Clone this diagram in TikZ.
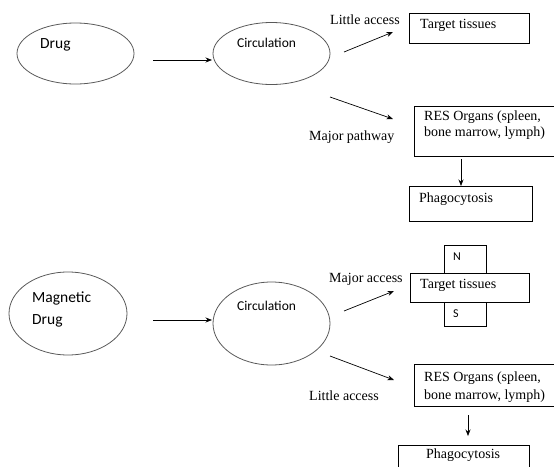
\documentclass[tikz,border=0pt]{standalone}
\usepackage{fontspec}
\setmainfont{Liberation Serif}
\newfontfamily\calfont{Carlito}
\usetikzlibrary{arrows.meta,shapes.geometric}
\begin{document}
\begin{tikzpicture}[x=1pt,y=-1pt,
  oval/.style={draw=black!65, line width=0.8pt, ellipse, inner sep=0pt},
  box/.style={draw, line width=0.8pt, rectangle, inner sep=0pt, anchor=north west},
  stxt/.style={font=\calfont\fontsize{15.5}{22}\selectfont, anchor=west, inner sep=0pt, align=left},
  ctxt/.style={font=\calfont\fontsize{13.5}{16}\selectfont, anchor=west, inner sep=0pt},
  ntxt/.style={font=\calfont\fontsize{12}{14}\selectfont, anchor=west, inner sep=0pt},
  rtxt/.style={font=\fontsize{14}{16}\selectfont, anchor=west, inner sep=0pt, align=left},
  arr/.style={-{Stealth[length=6.5pt,width=5pt]}, line width=0.7pt}]
\clip (0,0) rectangle (554,466);

% ---------- top diagram ----------
\node[oval, minimum width=117pt, minimum height=61pt] (drug) at (75.5,53.5) {};
\node[stxt] (drugt) at (40,45) {Drug};
\node[oval, minimum width=117pt, minimum height=62pt] (circ1) at (271.5,53.5) {};
\node[ctxt] (circ1t) at (237,43) {Circulation};

\node[box, minimum width=120pt, minimum height=30pt] (tt1) at (409,13) {};
\node[rtxt] (tt1t) at (420,25) {Target tissues};
\node[box, minimum width=139.5pt, minimum height=50pt] (res1) at (414,106) {};
\node[rtxt, font=\fontsize{14}{16}\selectfont] (res1t) at (424,125) {RES Organs (spleen,\\bone marrow, lymph)};
\node[box, minimum width=123pt, minimum height=35pt] (ph1) at (409,186) {};
\node[rtxt] (ph1t) at (419,199) {Phagocytosis};

\node[rtxt] (la1) at (330,20) {Little access};
\node[rtxt] (mp1) at (309,137) {Major pathway};

\coordinate (a1s) at (153,60);  \coordinate (a1e) at (212,60);
\coordinate (a2s) at (344,52);  \coordinate (a2e) at (393,32);
\coordinate (a3s) at (330,97);  \coordinate (a3e) at (393,119);
\coordinate (a4s) at (461,159); \coordinate (a4e) at (461,186);
\draw[arr] (a1s) -- (a1e);
\draw[arr] (a2s) -- (a2e);
\draw[arr] (a3s) -- (a3e);
\draw[arr] (a4s) -- (a4e);

% ---------- bottom diagram ----------
\node[oval, minimum width=118pt, minimum height=83pt] (mdrug) at (68,313.5) {};
\node[stxt] (mdrugt) at (32,309) {Magnetic\\Drug};
\node[oval, minimum width=117pt, minimum height=83pt] (circ2) at (271.5,323.5) {};
\node[ctxt] (circ2t) at (237,306) {Circulation};

\node[box, minimum width=42pt, minimum height=28pt] (nb) at (444,245) {};
\node[ntxt] (nbt) at (453,257) {N};
\node[box, minimum width=42pt, minimum height=24pt] (sb) at (444,302) {};
\node[ntxt] (sbt) at (453,314) {S};
\node[box, minimum width=119pt, minimum height=29pt, fill=white] (tt2) at (410,273) {};
\node[rtxt] (tt2t) at (420,285) {Target tissues};

\node[box, minimum width=139.5pt, minimum height=42pt] (res2) at (414,364) {};
\node[rtxt, font=\fontsize{14}{18}\selectfont] (res2t) at (424,387) {RES Organs (spleen,\\bone marrow, lymph)};
\node[box, minimum width=131pt, minimum height=30pt] (ph2) at (398,445) {};
\node[rtxt] (ph2t) at (426,455) {Phagocytosis};

\node[rtxt] (ma2) at (329,279) {Major access};
\node[rtxt] (la2) at (309,396) {Little access};

\coordinate (b1s) at (153,320); \coordinate (b1e) at (212,320);
\coordinate (b2s) at (344,311); \coordinate (b2e) at (394,291);
\coordinate (b3s) at (330,356); \coordinate (b3e) at (394,380);
\coordinate (b4s) at (468,415); \coordinate (b4e) at (468,436);
\draw[arr] (b1s) -- (b1e);
\draw[arr] (b2s) -- (b2e);
\draw[arr] (b3s) -- (b3e);
\draw[arr] (b4s) -- (b4e);
\end{tikzpicture}
\end{document}
